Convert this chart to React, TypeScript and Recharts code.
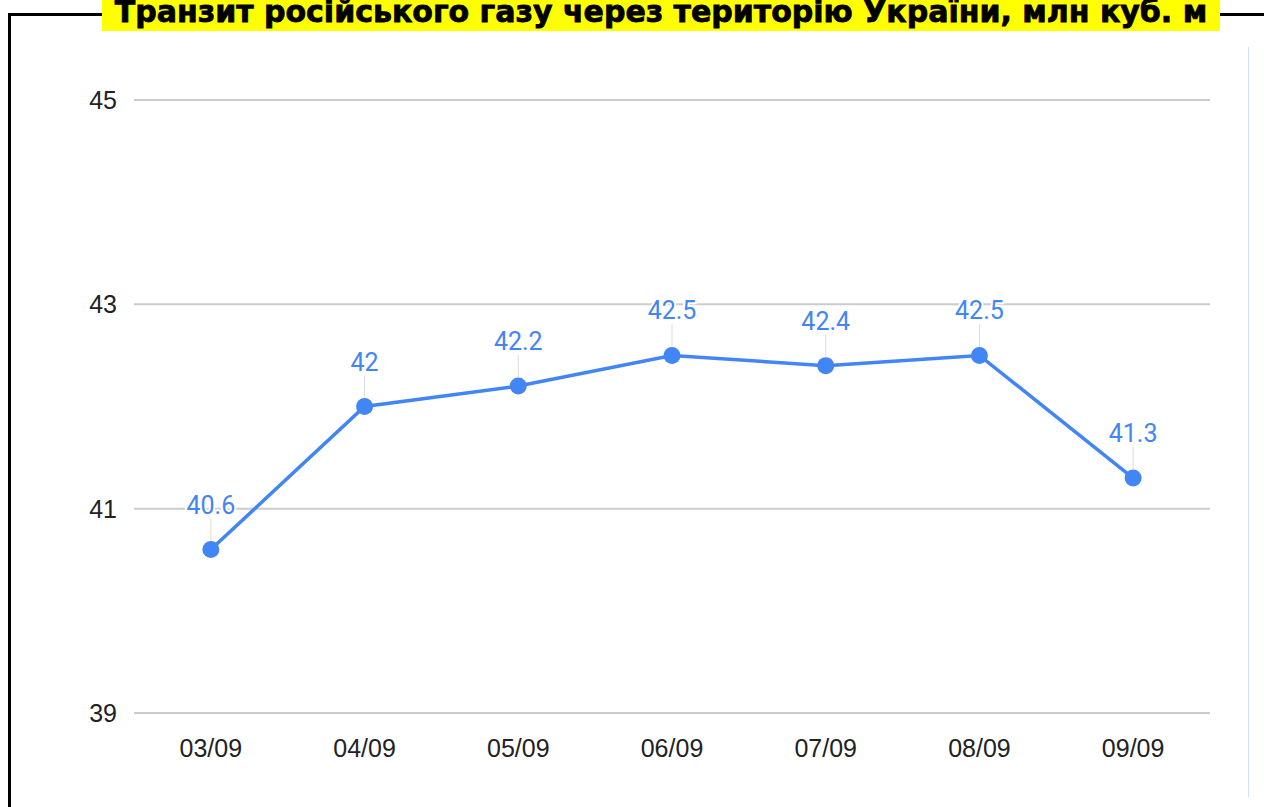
import { CartesianGrid, LabelList, Line, LineChart, XAxis, YAxis } from 'recharts';

const days = ['03/09', '04/09', '05/09', '06/09', '07/09', '08/09', '09/09'];
const transit = [40.6, 42, 42.2, 42.5, 42.4, 42.5, 41.3];
const yTicks = [39, 41, 43, 45];

const data = days.map((day, i) => ({ day, value: transit[i] }));

const BLUE = '#4285f4';
const AXIS_FONT = 'Liberation Sans, Arial, sans-serif';

const PointLabel = (props: any) => {
  const { x, y, width, value } = props;
  const cx = x + (width || 0) / 2;
  return (
    <g>
      <line x1={cx} y1={y - 9} x2={cx} y2={y - 31} stroke='#dddddd' strokeWidth={1} />
      <text
        x={cx}
        y={y - 36}
        textAnchor='middle'
        fontSize={25}
        fontFamily='Roboto, sans-serif'
        fill={BLUE}
        stroke='#ffffff'
        strokeWidth={4}
        paintOrder='stroke'
      >
        {value}
      </text>
    </g>
  );
};

const App = () => {
  return (
    <div style={{ position: 'absolute', left: 0, top: 0, width: 1264, height: 807, background: '#fff', overflow: 'hidden' }}>
      {/* frame */}
      <div
        style={{
          position: 'absolute',
          left: 8,
          top: 13,
          width: 1300,
          height: 900,
          borderLeft: '3px solid #000',
          borderTop: '3px solid #000',
        }}
      />
      {/* light divider on the right */}
      <div style={{ position: 'absolute', left: 1248, top: 47, width: 1, height: 750, background: '#cfe2f3' }} />
      <div style={{ position: 'absolute', left: 0, top: 0 }}>
        <LineChart width={1264} height={807} data={data} margin={{ top: 100, right: 54, left: 0, bottom: 64 }}>
          <CartesianGrid vertical={false} stroke='#cccccc' strokeWidth={2} />
          <XAxis
            dataKey='day'
            scale='band'
            axisLine={false}
            tickLine={false}
            height={30}
            tickMargin={20}
            tick={{ fontSize: 25, fill: '#222', fontFamily: AXIS_FONT }}
          />
          <YAxis
            domain={[39, 45]}
            ticks={yTicks}
            width={134}
            axisLine={false}
            tickLine={false}
            tickMargin={11}
            tick={{ fontSize: 25, fill: '#222', fontFamily: AXIS_FONT }}
          />
          <Line
            type='linear'
            dataKey='value'
            stroke={BLUE}
            strokeWidth={3.5}
            dot={{ r: 8.5, fill: BLUE, stroke: BLUE, strokeWidth: 0 }}
            isAnimationActive={false}
          >
            <LabelList dataKey='value' content={<PointLabel />} />
          </Line>
        </LineChart>
      </div>
      {/* title */}
      <div
        style={{
          position: 'absolute',
          left: 102,
          top: 0,
          width: 1118,
          height: 31,
          background: '#ffff00',
          overflow: 'hidden',
        }}
      >
        <div
          style={{
            position: 'absolute',
            left: 0,
            right: 0,
            top: -8,
            fontFamily: 'DejaVu Sans, sans-serif',
            fontWeight: 'bold',
            fontSize: 30,
            lineHeight: '40px',
            color: '#000',
            WebkitTextStroke: '0.8px #000',
            textAlign: 'center',
            whiteSpace: 'nowrap',
          }}
        >
          Транзит російського газу через територію України, млн куб. м
        </div>
      </div>
    </div>
  );
};

export default App;
